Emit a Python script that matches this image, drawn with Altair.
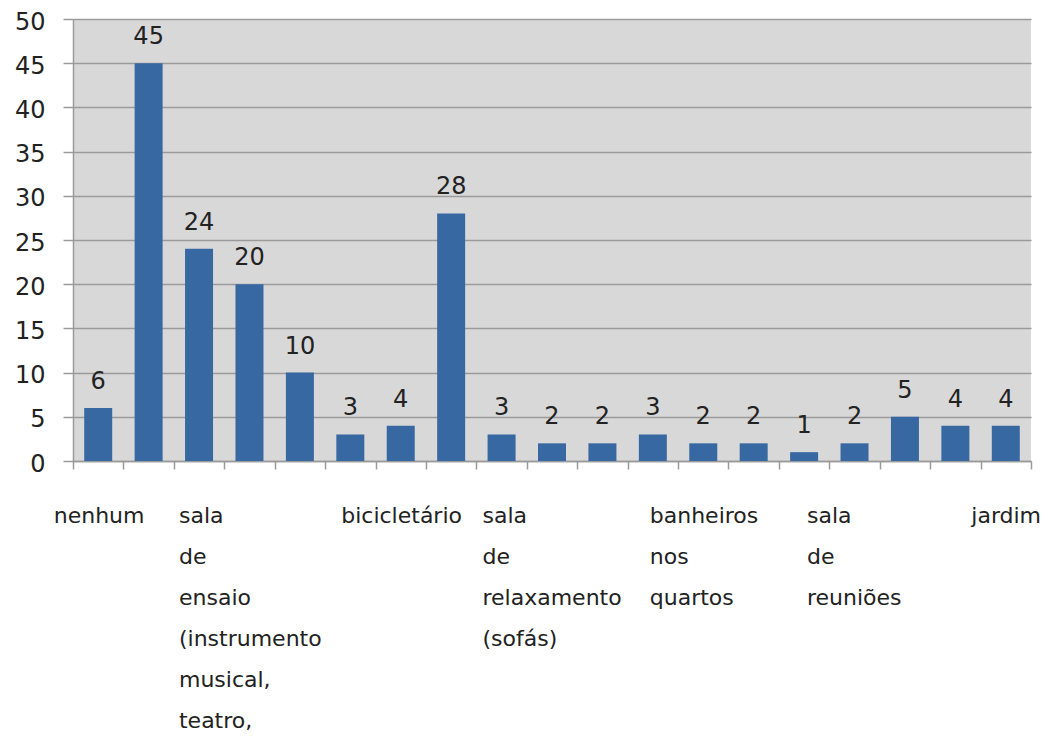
import json
import altair as alt
import pandas as pd

values = [6, 45, 24, 20, 10, 3, 4, 28, 3, 2, 2, 3, 2, 2, 1, 2, 5, 4, 4]
labels = ["nenhum", "", "", "sala de ensaio (instrumento musical, teatro,", "", "",
          "bicicletário", "", "", "sala de relaxamento (sofás)", "", "",
          "banheiros nos quartos", "", "", "sala de reuniões", "", "", "jardim"]
y_ticks = [0, 5, 10, 15, 20, 25, 30, 35, 40, 45, 50]

df = pd.DataFrame({"idx": list(range(len(values))), "valor": values})

LABEL_SIZE = 22
# approximate DejaVu Sans advance widths (em) to centre left-aligned label blocks
W = {"a": .613, "b": .635, "c": .550, "d": .635, "e": .615, "f": .352, "g": .635,
     "h": .634, "i": .278, "j": .278, "l": .278, "m": .974, "n": .634, "o": .612,
     "q": .635, "r": .411, "s": .521, "t": .392, "u": .634, "v": .592, "x": .592,
     "á": .613, "õ": .612, "(": .390, ")": .390, ",": .318}


def block_width(text):
    lines = text.split(" ")
    return max(sum(W.get(ch, .6) for ch in ln) for ln in lines) * LABEL_SIZE


conds = [{"test": f"datum.value === {i}", "value": -round(block_width(t) / 2)}
         for i, t in enumerate(labels) if t]

label_expr = (f"split(({json.dumps(labels, ensure_ascii=False)}[datum.value]) || '', ' ')")

base = alt.Chart(df).encode(
    x=alt.X("idx:O", title=None,
            scale=alt.Scale(paddingInner=0, paddingOuter=0),
            axis=alt.Axis(labelExpr=label_expr, labelAngle=0, labelAlign="left",
                          labelOffset={"condition": conds, "value": 0},
                          labelBaseline="top", labelLineHeight=41,
                          labelFont="DejaVu Sans", labelFontSize=LABEL_SIZE,
                          labelColor="#222222", labelPadding=36, labelOverlap=False,
                          tickBand="extent", tickSize=8, tickColor="#9a9a9a",
                          tickWidth=1.5, domainColor="#9a9a9a", domainWidth=1.5,
                          grid=False)),
)

bars = base.mark_bar(color="#3868a2", size=28).encode(
    y=alt.Y("valor:Q", title=None,
            scale=alt.Scale(domain=[0, 50], nice=False),
            axis=alt.Axis(values=y_ticks, labelFont="DejaVu Sans", labelFontSize=24,
                          labelColor="#222222", labelPadding=18, tickSize=10,
                          tickColor="#9a9a9a", tickWidth=1.5, domainColor="#9a9a9a",
                          domainWidth=1.5, gridColor="#9a9a9a", gridWidth=1.5,
                          labelOffset=3))
)

text = base.mark_text(font="DejaVu Sans", fontSize=24, color="#222222",
                      baseline="alphabetic", dy=-19).encode(
    y="valor:Q", text="valor:Q"
)

chart = (bars + text).properties(
    width=958, height=442,
    autosize=alt.AutoSizeParams(type="none"),
    padding={"left": 65, "top": 11, "right": 10, "bottom": 277},
).configure_view(fill="#d8d8d8", stroke=None)

chart.save("out.html", embed_options={"renderer": "svg", "actions": False})
